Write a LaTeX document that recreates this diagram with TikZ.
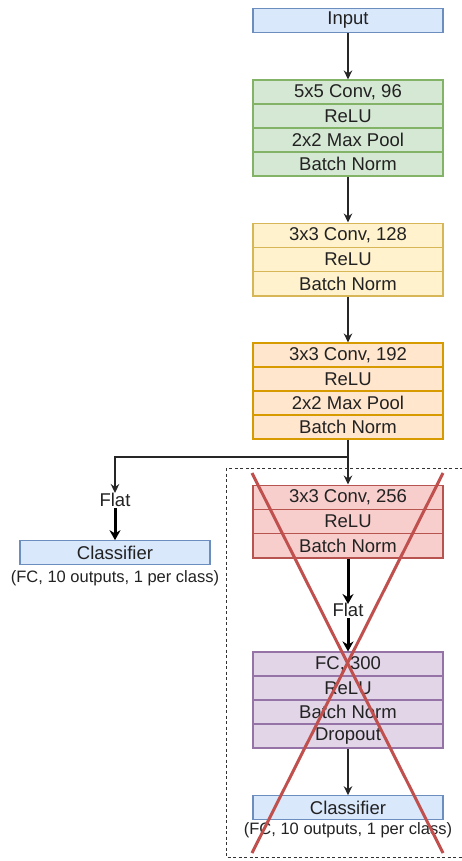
\documentclass[tikz,border=0pt]{standalone}
\usepackage{fontspec}
\setmainfont{Liberation Sans}
\usetikzlibrary{arrows.meta}

\definecolor{bluefill}{HTML}{DAE8FC}\definecolor{blueline}{HTML}{6C8EBF}
\definecolor{greenfill}{HTML}{D5E8D4}\definecolor{greenline}{HTML}{82B366}
\definecolor{yellowfill}{HTML}{FFF2CC}\definecolor{yellowline}{HTML}{D6B656}
\definecolor{orangefill}{HTML}{FFE6CC}\definecolor{orangeline}{HTML}{D79B00}
\definecolor{redfill}{HTML}{F8CECC}\definecolor{redline}{HTML}{B85450}
\definecolor{purplefill}{HTML}{E1D5E7}\definecolor{purpleline}{HTML}{9673A6}
\definecolor{txt}{HTML}{222222}
\definecolor{crossred}{HTML}{C0504D}

\tikzset{
  layer/.style={draw, line width=1.1pt, minimum width=190pt, minimum height=24pt,
    inner sep=0pt, text=txt, font=\fontsize{18.5}{20}\selectfont},
  inlayer/.style={layer, fill=bluefill, draw=blueline, minimum height=24.5pt},
  glayer/.style={layer, fill=greenfill, draw=greenline},
  ylayer/.style={layer, fill=yellowfill, draw=yellowline, minimum height=24.3pt},
  olayer/.style={layer, fill=orangefill, draw=orangeline},
  rlayer/.style={layer, fill=redfill, draw=redline, minimum height=24.3pt},
  player/.style={layer, fill=purplefill, draw=purpleline},
  plain/.style={text=txt, font=\fontsize{18.5}{20}\selectfont, inner sep=1pt},
  caption/.style={text=txt, font=\fontsize{16.5}{18}\selectfont, inner sep=1pt},
  thinarrow/.style={draw=black!85, line width=1.4pt, -{Stealth[length=9pt,width=8.5pt]}},
  thickarrow/.style={draw=black, line width=3pt, -{Stealth[length=10pt,width=11pt]}},
  cross/.style={draw=crossred, line width=3pt},
  frame/.style={draw=black!80, line width=1pt, dash pattern=on 3pt off 2.5pt}
}

\begin{document}
\begin{tikzpicture}[x=1pt,y=-1pt]
\useasboundingbox (0,0) rectangle (461,861);

% input
\node[inlayer] (in) at (348,20.5) {Input};

% block 1
\node[glayer] (g1) at (348,92) {5x5 Conv, 96};
\node[glayer] (g2) at (348,116) {ReLU};
\node[glayer] (g3) at (348,140) {2x2 Max Pool};
\node[glayer] (g4) at (348,164) {Batch Norm};

% block 2
\node[ylayer] (y1) at (348,235.2) {3x3 Conv, 128};
\node[ylayer] (y2) at (348,259.5) {ReLU};
\node[ylayer] (y3) at (348,283.8) {Batch Norm};

% block 3
\node[olayer] (o1) at (348,355) {3x3 Conv, 192};
\node[olayer] (o2) at (348,379) {ReLU};
\node[olayer] (o3) at (348,403) {2x2 Max Pool};
\node[olayer] (o4) at (348,427) {Batch Norm};

% early-exit branch
\coordinate (split) at (348,457);
\node[plain] (flatL) at (115,500) {Flat};
\node[layer, fill=bluefill, draw=blueline, minimum height=23.5pt] (clsL) at (115,552.5) {Classifier};
\node[caption] (capL) at (115,578) {(FC, 10 outputs, 1 per class)};

% removed tail
\node[rlayer] (r1) at (348,497.2) {3x3 Conv, 256};
\node[rlayer] (r2) at (348,521.5) {ReLU};
\node[rlayer] (r3) at (348,545.8) {Batch Norm};
\node[plain] (flatR) at (348,610) {Flat};
\node[player] (p1) at (348,664) {FC, 300};
\node[player] (p2) at (348,688) {ReLU};
\node[player] (p3) at (348,712) {Batch Norm};
\node[player] (p4) at (348,736) {Dropout};
\node[layer, fill=bluefill, draw=blueline, minimum height=23.5pt] (clsR) at (348,807.5) {Classifier};
\node[caption] (capR) at (348,830) {(FC, 10 outputs, 1 per class)};

% connectors
\draw[thinarrow] (in.south) -- (g1.north);
\draw[thinarrow] (g4.south) -- (y1.north);
\draw[thinarrow] (y3.south) -- (o1.north);
\draw[thinarrow] (o4.south) -- (r1.north);
\draw[thinarrow] (split) -| ([yshift=-1pt]flatL.north);
\draw[thickarrow] (flatL.south) -- (clsL.north);
\draw[thickarrow] (r3.south) -- ([yshift=-2pt]flatR.north);
\draw[thickarrow] (flatR.south) -- (p1.north);
\draw[thinarrow] (p4.south) -- (clsR.north);

% dashed frame around the removed part
\coordinate (fa) at (463,468.5);
\coordinate (fb) at (226,468.5);
\coordinate (fc) at (226,857);
\coordinate (fd) at (463,857);
\draw[frame] (fa) -- (fb) -- (fc) -- (fd);

% cross-out
\coordinate (xa) at (252,473);
\coordinate (xb) at (443,853);
\coordinate (xc) at (443,473);
\coordinate (xd) at (252,853);
\draw[cross] (xa) -- (xb);
\draw[cross] (xc) -- (xd);
\end{tikzpicture}
\end{document}
